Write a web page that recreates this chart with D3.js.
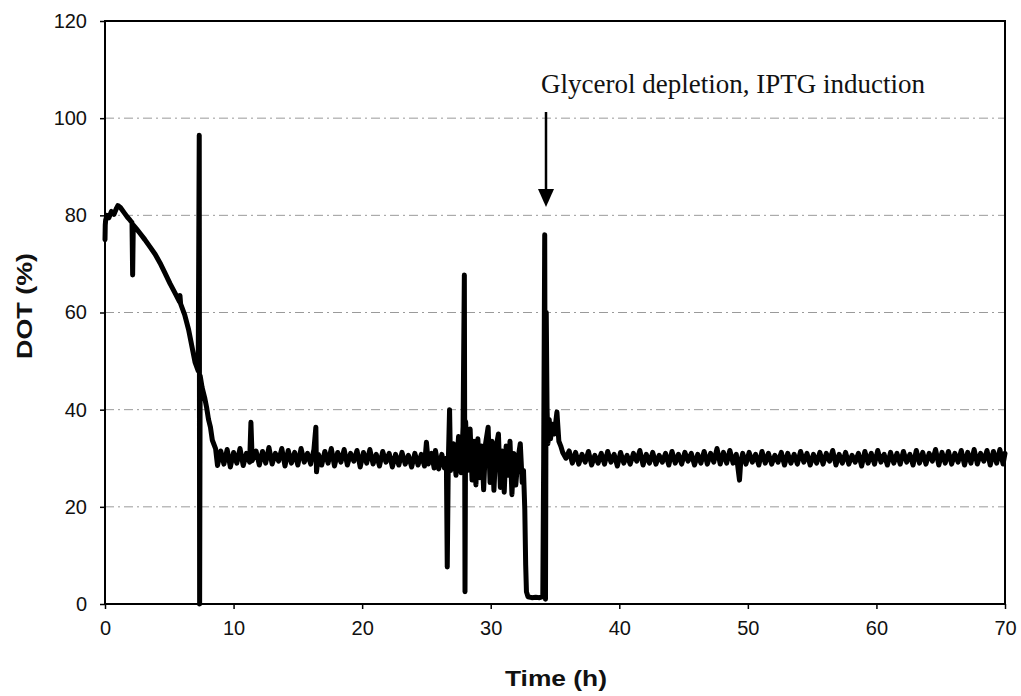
<!DOCTYPE html>
<html>
<head>
<meta charset="utf-8">
<script src="https://cdn.jsdelivr.net/npm/d3@7"></script>
<style>
  body { margin: 0; background: #fff; }
  .tick text { font-family: "Liberation Sans", Arial, sans-serif; font-size: 20px; fill: #111; }
  .axisTitle { font-family: "Liberation Sans", Arial, sans-serif; font-weight: bold; font-size: 22px; fill: #111; }
  .note { font-family: "Liberation Serif", "Times New Roman", serif; font-size: 27px; fill: #111; }
  .grid line { stroke: #9a9a9a; stroke-width: 1; stroke-dasharray: 9,4,2,4; }
</style>
</head>
<body>
<script>
// tick labels
var xTicks = [0, 10, 20, 30, 40, 50, 60, 70];
var yTicks = [0, 20, 40, 60, 80, 100, 120];
var gridLevels = [20, 40, 60, 80, 100];

// DOT (%) vs time (h), split by phase
// start-up and first drop of DOT
var startPhase = [
  [0, 75], [0.02, 78], [0.05, 79], [0.15, 80], [0.3, 79.5], [0.5, 80.8], [0.7, 80.2], [0.9, 81.5],
  [1.0, 82], [1.2, 81.6], [1.5, 80.5], [1.75, 79.6], [1.95, 79], [2.1, 78.5], [2.15, 67.7], [2.2, 78],
  [2.45, 77.2], [2.72, 76.3], [3.1, 75], [3.5, 73.5], [3.9, 72], [4.28, 70.2], [4.65, 68.2], [5.05, 66],
  [5.45, 64], [5.8, 62.2], [5.83, 63.5], [5.88, 61.8], [6.2, 59.5], [6.5, 56.5], [6.8, 52.5], [7.0, 49.8],
  [7.25, 48], [7.33, 96.5], [7.36, 0], [7.4, 47], [7.55, 44.6], [7.75, 42.5], [7.9, 40.5], [8.05, 38],
  [8.2, 36.4], [8.35, 33.7], [8.6, 32]
];

// glycerol batch, controlled at ~30 %
var batchPhase = [
  [8.75, 28.5], [9.0, 31.5], [9.25, 28.8], [9.5, 31.8], [9.75, 28.2], [10.0, 31.2], [10.25, 29.0],
  [10.5, 32.0], [10.75, 28.5], [11.0, 31.0], [11.25, 29.2], [11.35, 37.4], [11.45, 29.5], [11.75, 31.5],
  [12.0, 28.6], [12.25, 31.4], [12.5, 29.0], [12.75, 32.2], [13.0, 28.8], [13.25, 31.0], [13.5, 29.4],
  [13.75, 32.0], [14.0, 28.4], [14.25, 31.6], [14.5, 29.0], [14.75, 31.2], [15.0, 28.6], [15.25, 32.0],
  [15.5, 29.2], [15.75, 31.0], [16.0, 28.8], [16.25, 31.8], [16.4, 36.4], [16.45, 27.2], [16.6, 30.8],
  [16.85, 28.6], [17.1, 31.4], [17.35, 29.0], [17.6, 32.0], [17.85, 28.4], [18.1, 31.2], [18.35, 29.2],
  [18.6, 31.8], [18.85, 28.6], [19.1, 31.0], [19.35, 29.4], [19.6, 31.6], [19.85, 28.2], [20.1, 31.2],
  [20.35, 29.0], [20.6, 31.8], [20.85, 28.8], [21.1, 30.8], [21.35, 28.4], [21.6, 31.4], [21.85, 29.2],
  [22.1, 31.0], [22.35, 28.2], [22.6, 30.8], [22.85, 28.6], [23.1, 31.2], [23.35, 28.8], [23.6, 30.6],
  [23.85, 28.2], [24.1, 31.0], [24.35, 28.6], [24.6, 30.8], [24.85, 28.4], [25.0, 33.3], [25.15, 28.8],
  [25.4, 31.0], [25.6, 28.0], [25.7, 31.6], [25.95, 27.8], [26.2, 30.8], [26.4, 28.0], [26.55, 30.0]
];

// unstable period up to glycerol depletion and IPTG induction
var depletionPhase = [
  [26.62, 7.6], [26.7, 29.0], [26.8, 40.0], [26.88, 27.5], [27.1, 33.0], [27.3, 26.5], [27.5, 34.5],
  [27.7, 27.0], [27.85, 36.5], [27.95, 67.7], [28.0, 2.5], [28.05, 37.5], [28.2, 27.5], [28.4, 36.0],
  [28.55, 25.5], [28.7, 33.5], [28.85, 24.5], [29.0, 34.0], [29.15, 26.0], [29.3, 32.5], [29.45, 23.5],
  [29.6, 33.0], [29.8, 36.4], [29.95, 25.0], [30.1, 33.5], [30.25, 23.4], [30.4, 32.0], [30.6, 35.0],
  [30.75, 24.0], [30.9, 31.5], [31.05, 23.0], [31.2, 32.5], [31.35, 26.5], [31.5, 33.5], [31.65, 22.5],
  [31.8, 31.0], [31.95, 24.5], [32.1, 29.5], [32.3, 33.0], [32.45, 25.0], [32.55, 27.5], [32.65, 19.5],
  [32.72, 8.0], [32.78, 2.5], [32.9, 1.5], [33.2, 1.3], [33.5, 1.4], [33.8, 1.3], [34.05, 1.5],
  [34.12, 30.0], [34.2, 76.0], [34.26, 1.0], [34.32, 60.0], [34.38, 40.5], [34.45, 33.0], [34.55, 38.0],
  [34.65, 34.0], [34.8, 37.0], [34.95, 35.0], [35.15, 39.5], [35.3, 33.5], [35.45, 32.5], [35.6, 31.2],
  [35.85, 30.0]
];

// production phase after induction
var inducedPhase = [
  [36.1, 31.5], [36.35, 29.0], [36.6, 31.2], [36.85, 28.8], [37.1, 30.8], [37.35, 29.2], [37.6, 31.4],
  [37.85, 28.6], [38.1, 30.6], [38.35, 29.0], [38.6, 31.0], [38.85, 28.8], [39.1, 31.4], [39.35, 29.2],
  [39.6, 30.8], [39.85, 28.4], [40.1, 31.2], [40.35, 29.0], [40.6, 30.6], [40.85, 28.8], [41.1, 31.0],
  [41.35, 29.4], [41.6, 31.6], [41.85, 28.6], [42.1, 30.8], [42.35, 29.0], [42.6, 31.2], [42.85, 28.8],
  [43.1, 30.6], [43.35, 29.2], [43.6, 31.0], [43.85, 28.6], [44.1, 31.4], [44.35, 29.0], [44.6, 30.8],
  [44.85, 28.8], [45.1, 31.2], [45.35, 29.4], [45.6, 31.0], [45.85, 28.6], [46.1, 30.8], [46.35, 29.0],
  [46.6, 31.4], [46.85, 28.8], [47.1, 31.0], [47.35, 29.2], [47.6, 32.0], [47.85, 28.8], [48.1, 31.2],
  [48.35, 29.0], [48.6, 31.6], [48.85, 29.0], [49.1, 30.8], [49.35, 25.5], [49.45, 29.4], [49.6, 31.0],
  [49.85, 28.8], [50.1, 31.2], [50.35, 29.2], [50.6, 30.8], [50.85, 28.6], [51.1, 31.4], [51.35, 29.0],
  [51.6, 31.0], [51.85, 28.8], [52.1, 30.6], [52.35, 29.2], [52.6, 31.2], [52.85, 28.6], [53.1, 31.0],
  [53.35, 29.0], [53.6, 30.8], [53.85, 28.8], [54.1, 31.4], [54.35, 29.2], [54.6, 31.0], [54.85, 28.6],
  [55.1, 30.8], [55.35, 29.0], [55.6, 31.2], [55.85, 28.8], [56.1, 31.0], [56.35, 29.4], [56.6, 31.6],
  [56.85, 28.6], [57.1, 30.8], [57.35, 29.0], [57.6, 31.2], [57.85, 28.8], [58.1, 30.6], [58.35, 29.2],
  [58.6, 31.0], [58.85, 28.4], [59.1, 31.4], [59.35, 29.0], [59.6, 31.0], [59.85, 28.8], [60.1, 31.6],
  [60.35, 29.2], [60.6, 30.8], [60.85, 28.6], [61.1, 31.2], [61.35, 29.0], [61.6, 31.0], [61.85, 28.8],
  [62.1, 31.4], [62.35, 29.2], [62.6, 30.8], [62.85, 28.6], [63.1, 31.6], [63.35, 29.0], [63.6, 31.2],
  [63.85, 28.8], [64.1, 31.0], [64.35, 29.4], [64.6, 31.8], [64.85, 28.6], [65.1, 31.2], [65.35, 29.0],
  [65.6, 31.4], [65.85, 28.8], [66.1, 31.0], [66.35, 29.2], [66.6, 31.6], [66.85, 28.6], [67.1, 31.2],
  [67.35, 29.0], [67.6, 31.8], [67.85, 28.8], [68.1, 31.0], [68.35, 29.4], [68.6, 31.6], [68.85, 28.6],
  [69.1, 31.4], [69.35, 29.0], [69.6, 31.8], [69.85, 28.8], [70.0, 31.0]
];

// annotation
var noteText = "Glycerol depletion, IPTG induction";
var noteTime = 34.3;

drawChart();

function drawChart(){

    var width = 1021,
        height = 696,
        margin = {top: 21, right: 16, bottom: 92, left: 105};

    var svg = d3.select("body")
        .append("svg")
        .attr("width", width)
        .attr("height", height);

    var x = d3.scaleLinear()
        .domain([0, 70])
        .range([margin.left, width - margin.right]);

    var y = d3.scaleLinear()
        .domain([0, 120])
        .range([height - margin.bottom, margin.top]);

    // dashed gridlines
    svg.append("g")
        .attr("class", "grid")
        .selectAll("line")
        .data(gridLevels)
        .enter()
        .append("line")
        .attr("x1", x(0))
        .attr("x2", x(70))
        .attr("y1", function(d){ return y(d); })
        .attr("y2", function(d){ return y(d); });

    // the DOT trace
    var series = startPhase.concat(batchPhase, depletionPhase, inducedPhase);

    var line = d3.line()
        .x(function(d){ return x(d[0]); })
        .y(function(d){ return y(d[1]); });

    svg.append("path")
        .datum(series)
        .attr("fill", "none")
        .attr("stroke", "#000")
        .attr("stroke-width", 5)
        .attr("stroke-linejoin", "round")
        .attr("stroke-linecap", "round")
        .attr("d", line);

    // frame
    svg.append("rect")
        .attr("x", x(0))
        .attr("y", y(120))
        .attr("width", x(70) - x(0))
        .attr("height", y(0) - y(120))
        .attr("fill", "none")
        .attr("stroke", "#000")
        .attr("stroke-width", 2);

    // axes
    var xAxis = svg.append("g")
        .attr("transform", "translate(0," + y(0) + ")")
        .call(d3.axisBottom(x).tickValues(xTicks).tickSize(5).tickPadding(12));

    var yAxis = svg.append("g")
        .attr("transform", "translate(" + x(0) + ",0)")
        .call(d3.axisLeft(y).tickValues(yTicks).tickSize(5).tickPadding(13));

    [xAxis, yAxis].forEach(function(g){
        g.select(".domain").remove();
        g.selectAll(".tick line").attr("stroke", "#000").attr("stroke-width", 1.5);
    });

    // axis titles
    svg.append("text")
        .attr("class", "axisTitle")
        .attr("x", 556)
        .attr("y", 686)
        .attr("text-anchor", "middle")
        .attr("textLength", 102)
        .attr("lengthAdjust", "spacingAndGlyphs")
        .text("Time (h)");

    svg.append("text")
        .attr("class", "axisTitle")
        .attr("transform", "translate(32,306) rotate(-90)")
        .attr("text-anchor", "middle")
        .attr("textLength", 106)
        .attr("lengthAdjust", "spacingAndGlyphs")
        .text("DOT (%)");

    // annotation text and arrow
    svg.append("text")
        .attr("class", "note")
        .attr("x", 541)
        .attr("y", 93)
        .text(noteText);

    var ax = x(noteTime);
    svg.append("line")
        .attr("x1", ax)
        .attr("x2", ax)
        .attr("y1", 112)
        .attr("y2", 192)
        .attr("stroke", "#000")
        .attr("stroke-width", 2.5);

    svg.append("path")
        .attr("d", "M" + (ax - 8) + ",189 L" + (ax + 8) + ",189 L" + ax + ",207 Z")
        .attr("fill", "#000");
}
</script>
</body>
</html>
